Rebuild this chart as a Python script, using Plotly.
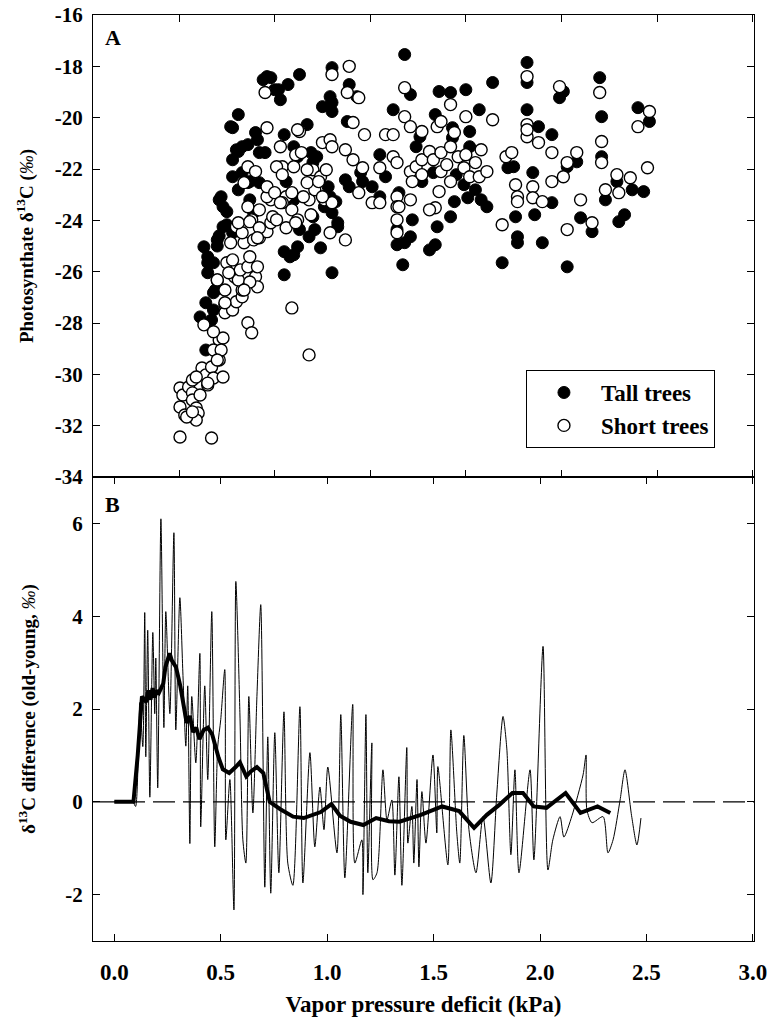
import plotly.graph_objects as go
from plotly.subplots import make_subplots

# ---------------- Panel A data (VPD, photosynthate d13C) ----------------
tall_vpd = [0.63,0.65,0.68,0.61,0.64,0.68,0.64,0.68,0.71,0.73,0.75,0.73,0.70,0.78,0.77,0.81,
            0.78,0.78,0.81,0.83,0.86,0.81,0.83,0.86,0.87,0.89,0.90,0.91,0.92,0.95,0.94,0.96,
            0.98,1.02,1.03,1.07,1.13,1.05,1.10,1.12,1.17,1.06,1.10,1.13,1.19,1.20,1.20,1.21,
            1.18,1.24,1.05,1.10,1.12,1.05,1.08,1.25,1.29,1.30,1.30,1.30,1.38,1.39,1.43,1.28,
            1.29,1.32,1.26,1.30,1.33,1.30,1.33,1.37,1.39,1.45,1.46,1.51,1.55,1.58,1.55,1.62,
            1.64,1.64,1.65,1.68,1.71,1.72,1.67,1.68,1.71,1.74,1.76,1.77,1.83,1.84,1.86,1.92,
            1.85,1.81,1.84,1.92,1.94,1.93,1.95,1.93,2.00,2.02,2.02,1.99,2.01,2.05,2.08,2.11,
            2.07,2.14,2.19,2.22,2.25,2.26,2.27,2.27,2.32,2.32,2.32,2.38,2.35,2.36,2.40,2.45,
            2.45,2.49,2.51,2.53,2.53,2.58,2.60,2.66,2.70,2.71,2.71,2.73,2.79,2.80,2.83,2.87,
            2.90,2.96,2.93,0.65,0.65,0.69,0.67,0.72,0.75,0.78,0.80,0.87,0.92,1.00,1.22,0.70,0.71]
tall_d13c = [-25.03,-25.42,-25.65,-27.76,-27.21,-27.49,-29.05,-26.82,-23.20,-23.47,-23.66,-24.25,-24.76,-24.48,-20.35,-19.88,
             -21.64,-22.30,-22.81,-21.13,-21.05,-21.32,-22.14,-22.53,-23.20,-23.70,-20.58,-20.86,-21.36,-21.36,-18.52,-18.40,
             -18.44,-18.91,-19.30,-18.71,-18.32,-20.66,-21.13,-21.52,-20.27,-22.49,-23.20,-24.36,-21.36,-21.75,-23.86,-24.36,
             -24.64,-25.07,-25.22,-25.34,-25.03,-26.12,-25.42,-19.57,-19.18,-19.41,-19.76,-18.05,-20.15,-18.71,-19.18,-22.69,
             -23.08,-23.27,-23.47,-23.70,-24.09,-26.04,-24.25,-22.42,-22.69,-22.14,-22.49,-22.69,-21.44,-22.30,-23.08,-19.69,
             -24.36,-24.95,-22.92,-17.54,-19.10,-23.98,-25.73,-24.87,-24.64,-21.13,-20.74,-22.49,-22.14,-19.88,-18.98,-19.02,
             -24.25,-25.15,-24.95,-23.86,-23.27,-20.78,-22.22,-20.39,-18.91,-20.54,-21.13,-22.61,-23.12,-22.81,-23.20,-23.47,
             -19.69,-18.63,-25.65,-21.95,-21.91,-23.86,-24.64,-24.87,-17.85,-18.63,-19.69,-20.35,-22.14,-23.78,-24.87,-20.66,
             -23.31,-19.22,-18.98,-21.91,-25.81,-21.72,-23.90,-24.44,-18.44,-19.96,-21.52,-23.20,-22.49,-24.05,-23.78,-22.81,
             -19.61,-20.15,-22.88,-25.65,-26.04,-26.71,-27.88,-23.08,-24.17,-20.39,-21.25,-22.49,-22.53,-18.91,-21.52,-25.00,-24.60]

short_vpd = [0.505,0.67,0.505,0.52,0.505,0.53,0.55,0.57,0.57,0.59,0.60,0.59,0.61,0.62,0.57,0.65,
             0.64,0.67,0.68,0.71,0.73,0.70,0.71,0.73,0.68,0.63,0.68,0.70,0.74,0.74,0.74,0.78,
             0.80,0.83,0.83,0.86,0.88,0.75,0.78,0.79,0.81,0.82,0.86,0.90,0.91,0.91,0.84,0.87,
             0.80,0.83,0.89,0.92,0.93,0.96,0.98,0.99,1.01,0.98,0.96,0.86,0.88,0.86,0.90,0.84,
             0.95,0.96,1.03,1.04,1.06,1.04,1.09,1.10,1.11,1.14,1.13,1.09,1.12,1.09,1.18,1.18,
             1.21,1.17,1.20,1.24,1.27,1.25,1.29,1.30,1.37,1.26,1.30,1.29,1.37,1.38,1.39,1.30,
             1.44,1.41,1.47,1.41,1.46,1.44,1.51,1.55,1.55,1.58,1.62,1.62,1.64,1.64,1.64,1.64,
             1.64,1.68,1.68,1.71,1.77,1.71,1.72,1.74,1.77,1.77,1.81,1.83,1.87,1.87,1.90,1.92,
             1.92,1.94,1.96,1.99,2.02,2.05,2.07,2.08,2.11,2.00,1.85,1.87,1.92,2.00,2.14,1.86,
             1.84,1.81,1.71,1.65,2.19,2.21,2.24,2.26,2.27,2.27,2.32,2.32,2.32,2.32,2.38,2.35,
             2.35,2.40,2.45,2.45,2.51,2.49,2.53,2.53,2.58,2.60,2.66,2.70,2.71,2.71,2.73,2.79,
             2.80,2.86,2.90,2.96,2.95,1.12,1.01,1.04,1.17,1.23,0.96,1.00,1.15,1.25,0.92,1.03,
             1.19,0.81,0.87,0.92,1.06,1.11,0.91,0.77,0.76,0.87,0.84,0.70,0.74,0.72,0.70,0.59,
             0.65,0.54,0.57]
short_d13c = [-32.44,-32.48,-30.53,-30.80,-31.27,-31.58,-30.49,-30.72,-31.00,-31.31,-31.50,-31.78,-30.80,-29.75,-30.22,-30.41,
              -30.02,-29.71,-30.14,-29.44,-30.10,-29.16,-28.66,-28.58,-29.05,-28.07,-28.34,-26.32,-26.71,-27.29,-27.60,-27.49,
              -27.17,-26.98,-26.71,-27.99,-28.38,-25.65,-25.54,-26.20,-26.32,-25.93,-25.81,-26.20,-26.59,-25.81,-24.87,-25.42,
              -24.25,-24.48,-24.76,-24.68,-24.36,-24.44,-24.09,-23.86,-23.98,-23.20,-23.08,-23.47,-23.98,-21.91,-22.10,-22.53,
              -19.02,-20.39,-21.13,-21.91,-23.08,-23.31,-22.92,-21.91,-21.44,-21.36,-20.54,-23.59,-23.98,-27.41,-29.24,-23.20,
              -22.81,-22.53,-22.03,-22.30,-22.03,-20.97,-20.86,-21.13,-21.25,-23.20,-23.31,-24.48,-24.76,-19.02,-18.00,-18.32,
              -19.22,-20.19,-20.66,-21.64,-21.95,-22.92,-23.31,-23.31,-21.95,-20.66,-20.66,-21.52,-21.75,-23.08,-23.47,-23.98,
              -24.48,-18.83,-19.96,-20.35,-20.54,-22.10,-22.49,-21.91,-22.22,-21.64,-21.32,-21.64,-21.36,-22.10,-21.83,-22.49,
              -21.13,-20.58,-21.52,-21.95,-22.30,-21.75,-22.30,-21.25,-22.10,-21.44,-20.35,-20.15,-19.49,-19.96,-20.08,-22.88,
              -23.51,-23.59,-23.20,-23.47,-24.17,-21.52,-21.36,-22.61,-23.08,-23.27,-18.40,-20.27,-20.74,-20.47,-20.97,-22.69,
              -23.12,-23.27,-21.36,-22.49,-22.30,-18.79,-21.75,-24.36,-21.36,-23.20,-24.09,-19.02,-20.93,-21.75,-22.81,-22.22,
              -22.92,-22.34,-20.35,-19.76,-21.95,-20.47,-21.91,-22.22,-22.03,-22.49,-22.69,-22.92,-23.08,-23.08,-23.59,-23.31,
              -23.78,-24.09,-24.05,-24.29,-24.29,-24.09,-24.68,-24.87,-26.04,-26.40,-26.71,-26.32,-27.21,-29.05,-29.44,-30.10,
              -30.34,-31.66,-31.46]

# ---------------- Panel B data (VPD, d13C difference old - young) ----------------
diff_vpd = [0.0,0.05,0.087,0.10,0.12,0.134,0.143,0.148,0.157,0.167,0.181,0.19,0.195,0.204,0.219,0.233,
            0.242,0.261,0.28,0.289,0.308,0.322,0.336,0.345,0.355,0.364,0.383,0.402,0.406,0.425,0.439,0.458,
            0.472,0.486,0.50,0.519,0.524,0.543,0.562,0.571,0.59,0.604,0.618,0.632,0.651,0.67,0.688,0.707,
            0.721,0.735,0.754,0.773,0.797,0.815,0.839,0.872,0.886,0.919,0.942,0.966,0.985,1.003,1.046,1.064,
            1.083,1.12,1.13,1.163,1.168,1.182,1.191,1.21,1.215,1.234,1.262,1.281,1.304,1.318,1.337,1.351,
            1.374,1.379,1.398,1.407,1.422,1.431,1.445,1.464,1.497,1.515,1.52,1.567,1.581,1.609,1.623,1.642,
            1.666,1.699,1.732,1.769,1.797,1.826,1.844,1.863,1.882,1.901,1.953,1.971,2.014,2.037,2.06,2.094,
            2.112,2.15,2.202,2.216,2.22,2.244,2.296,2.319,2.343,2.376,2.399,2.43,2.455,2.474]
diff_values = [0.0,0.0,0.0,-0.1,2.14,1.19,4.08,0.97,3.7,0.1,3.65,1.9,3.1,0.3,6.1,1.6,
               4.1,1.9,5.8,1.55,4.4,2.8,1.2,2.5,-0.9,2.27,0.84,3.2,-0.54,2.5,0.48,4.1,
               -0.97,1.2,1.77,2.85,-0.82,0.48,-2.33,4.75,1.92,-0.82,-1.32,2.27,-0.24,2.27,4.25,-1.84,
               1.4,-1.97,1.49,-1.53,1.94,-1.32,-1.8,2.05,-1.75,1.06,-0.97,0.32,-0.6,0.75,-1.1,1.88,
               -1.64,2.1,-1.32,-0.82,-2.0,1.88,-1.53,1.27,-1.68,-1.53,0.69,-0.39,0.04,-1.58,0.54,-1.8,
               1.17,-0.89,-0.1,-1.32,0.48,-1.4,0.22,-0.89,1.01,-0.67,0.76,-1.36,1.55,-0.67,-1.32,1.43,
               -0.6,-1.53,-0.32,-1.75,0.19,1.84,1.14,-1.14,0.69,-1.53,0.69,-1.25,3.35,-1.47,-0.82,-0.32,
               -0.76,-0.3,0.58,1.01,-0.17,-0.45,-0.32,-1.1,-0.82,0.04,0.69,-0.3,-0.93,-0.35]

smooth_vpd = [0.0,0.05,0.09,0.11,0.13,0.15,0.16,0.17,0.18,0.19,0.20,0.21,0.23,0.24,0.26,0.27,
              0.29,0.31,0.34,0.355,0.37,0.385,0.40,0.42,0.44,0.46,0.47,0.49,0.51,0.54,0.57,0.59,
              0.62,0.64,0.67,0.70,0.73,0.78,0.84,0.89,0.97,1.02,1.06,1.11,1.17,1.23,1.29,1.34,
              1.44,1.54,1.62,1.69,1.75,1.81,1.87,1.92,1.97,2.03,2.12,2.19,2.27,2.33]
smooth_values = [0.0,0.0,0.0,1.0,2.27,2.15,2.4,2.2,2.45,2.25,2.4,2.35,2.55,2.9,3.2,3.05,
                 2.9,2.5,1.7,1.85,1.5,1.6,1.35,1.55,1.6,1.45,1.27,0.95,0.7,0.62,0.75,0.85,
                 0.55,0.65,0.75,0.62,0.0,-0.16,-0.32,-0.35,-0.22,-0.05,-0.3,-0.43,-0.5,-0.35,-0.42,-0.43,
                 -0.28,-0.1,-0.2,-0.56,-0.28,-0.06,0.19,0.19,-0.1,-0.13,0.19,-0.24,-0.1,-0.24]

y_ticks_a = [-16, -18, -20, -22, -24, -26, -28, -30, -32, -34]
y_ticks_b = [-2, 0, 2, 4, 6]
x_ticks = [0.0, 0.5, 1.0, 1.5, 2.0, 2.5, 3.0]

FONT = "Liberation Serif"

fig = make_subplots(rows=2, cols=1, vertical_spacing=0)

fig.add_trace(go.Scatter(x=tall_vpd, y=tall_d13c, mode="markers", name="Tall trees",
                         legendgroup="a",
                         marker=dict(size=12, color="black", line=dict(color="black", width=1))),
              row=1, col=1)
fig.add_trace(go.Scatter(x=short_vpd, y=short_d13c, mode="markers", name="Short trees",
                         legendgroup="b",
                         marker=dict(size=12, color="white", line=dict(color="black", width=1.4))),
              row=1, col=1)

fig.add_trace(go.Scatter(x=diff_vpd, y=diff_values, mode="lines", showlegend=False,
                         line=dict(color="black", width=1, shape="spline", smoothing=0.7)),
              row=2, col=1)
fig.add_trace(go.Scatter(x=smooth_vpd, y=smooth_values, mode="lines", showlegend=False,
                         line=dict(color="black", width=4)),
              row=2, col=1)

fig.add_hline(y=0, line=dict(color="black", width=1.2, dash="22px,8px"), row=2, col=1)

axis_common = dict(showline=True, linecolor="black", linewidth=1, mirror="ticks",
                   ticks="inside", ticklen=7, tickwidth=1, tickcolor="black",
                   showgrid=False, zeroline=False, automargin=False)
ytickfont = dict(family=FONT, size=21, color="black", weight="bold")
xtickfont = dict(family=FONT, size=23, color="black", weight="bold")
title_font = dict(family=FONT, size=19, color="black")

fig.update_layout(
    xaxis=dict(domain=[0, 1], range=[0.05, 3.507], tick0=0, dtick=0.5,
               showticklabels=False, **axis_common),
    yaxis=dict(domain=[0.501, 1], range=[-34, -16], tickvals=y_ticks_a,
               ticktext=[f"<b>{v}</b>" for v in y_ticks_a], tickfont=ytickfont, ticklabelstandoff=5,
               title=dict(text="<b>Photosynthate δ<sup>13</sup>C (</b><i>‰</i><b>)</b>",
                          font=title_font, standoff=16),
               **axis_common),
    xaxis2=dict(domain=[0, 1], range=[-0.1, 3.005], tickvals=x_ticks,
                ticktext=[f"<b>{v:.1f}</b>" for v in x_ticks], tickfont=xtickfont, ticklabelstandoff=10,
                title=dict(text="<b>Vapor pressure deficit (kPa)</b>",
                           font=dict(family=FONT, size=23, color="black"), standoff=15),
                **axis_common),
    yaxis2=dict(domain=[0, 0.501], range=[-3, 7], tickvals=y_ticks_b,
                ticktext=[f"<b>{v}</b>" for v in y_ticks_b], tickfont=ytickfont, ticklabelstandoff=5,
                title=dict(text="<b>δ<sup>13</sup>C difference (old-young, </b><i>‰</i><b>)</b>",
                           font=title_font, standoff=24),
                **axis_common),
    width=781, height=1017,
    margin=dict(l=93, r=27, t=15, b=76),
    plot_bgcolor="white", paper_bgcolor="white",
    showlegend=True,
    legend=dict(x=0.655, y=0.6166, xanchor="left", yanchor="top",
                bordercolor="black", borderwidth=1, bgcolor="white",
                font=dict(family=FONT, size=23, color="black", weight="bold"),
                itemwidth=64, tracegroupgap=4, traceorder="normal"),
    annotations=[
        dict(text="<b>A</b>", xref="paper", yref="paper", x=0.015, y=0.976,
             xanchor="left", yanchor="middle", showarrow=False,
             font=dict(family=FONT, size=22, color="black")),
        dict(text="<b>B</b>", xref="paper", yref="paper", x=0.015, y=0.471,
             xanchor="left", yanchor="middle", showarrow=False,
             font=dict(family=FONT, size=22, color="black")),
    ],
)

fig.write_html("out.html", config={"displayModeBar": False},
               post_script="document.body.style.margin='0px';")
